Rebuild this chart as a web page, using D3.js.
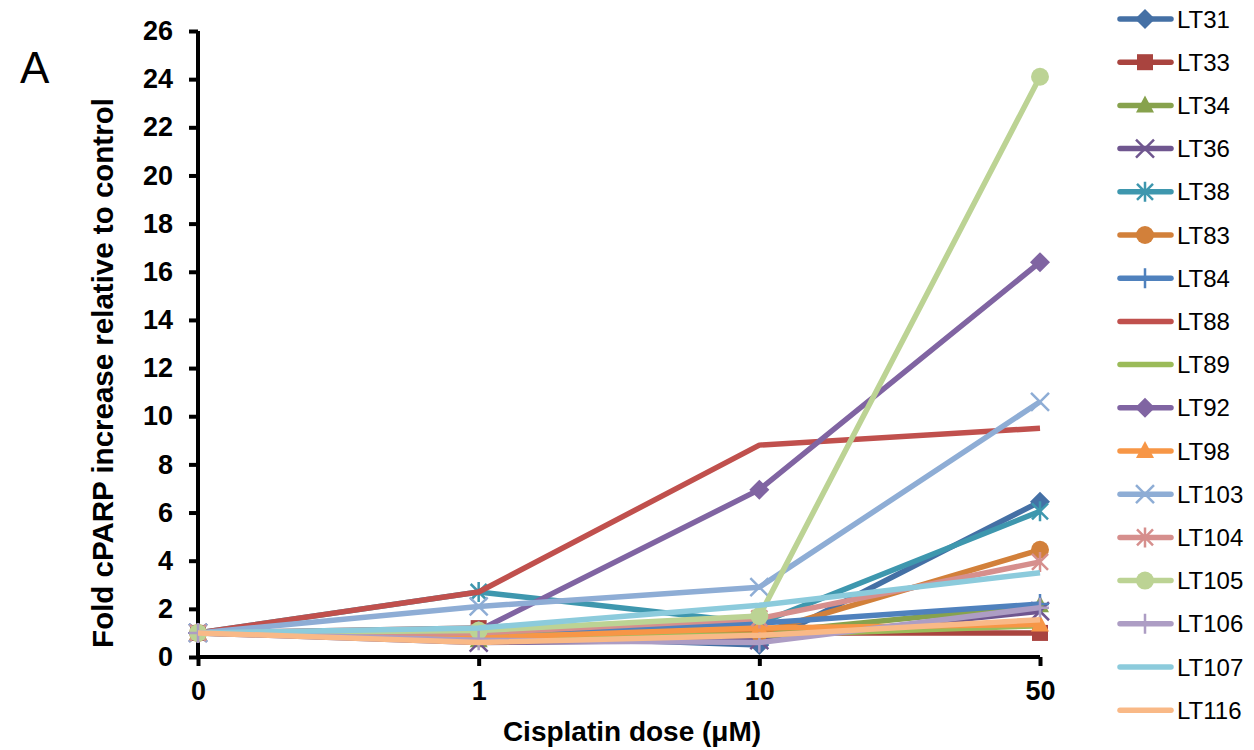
<!DOCTYPE html>
<html>
<head>
<meta charset="utf-8">
<script src="https://cdn.jsdelivr.net/npm/d3@7"></script>
<style>
  body { margin: 0; background: #fff; }
  svg { font-family: Arial, "Liberation Sans", sans-serif; }
</style>
</head>
<body>
<script>
var doses = ['0', '1', '10', '50'];
var yTicks = d3.range(0, 27, 2);

var names   = ['LT31','LT33','LT34','LT36','LT38','LT83','LT84','LT88','LT89','LT92','LT98','LT103','LT104','LT105','LT106','LT107','LT116'];
var colors  = ['#4470a5','#a9443f','#87a24d','#6f568f','#3e97ae','#d2803a','#4f81bd','#c0504d','#9bbb59','#8064a2','#f79646','#8eadd5','#d68f8d','#bcd394','#ad9dc4','#8ccbdc','#f9b987'];
var markers = ['diamond','square','triangle','x','asterisk','circle','plus','none','none','diamond','triangle','x','asterisk','circle','plus','none','none'];

var LT31  = [1, 0.9, 0.5, 6.45];
var LT33  = [1, 1.2, 1.0, 1.0];
var LT34  = [1, 0.7, 1.0, 2.15];
var LT36  = [1, 0.6, 0.7, 1.9];
var LT38  = [1, 2.7, 1.4, 6.05];
var LT83  = [1, 0.9, 1.0, 4.45];
var LT84  = [1, 1.0, 1.4, 2.2];
var LT88  = [1, 2.7, 8.8, 9.5];
var LT89  = [1, 0.9, 0.9, 1.3];
var LT92  = [1, 1.1, 6.95, 16.4];
var LT98  = [1, 0.8, 1.2, 1.35];
var LT103 = [1, 2.1, 2.9, 10.6];
var LT104 = [1, 1.0, 1.6, 3.95];
var LT105 = [1, 1.1, 1.7, 24.1];
var LT106 = [1, 0.7, 0.6, 2.05];
var LT107 = [1, 1.2, 2.15, 3.5];
var LT116 = [1, 0.6, 0.9, 1.55];
var values = [LT31,LT33,LT34,LT36,LT38,LT83,LT84,LT88,LT89,LT92,LT98,LT103,LT104,LT105,LT106,LT107,LT116];

var series = names.map(function(n, i) {
  return {name: n, color: colors[i], marker: markers[i], values: values[i]};
});

var w = 1254, h = 750;
var svg = d3.select('body').append('svg').attr('width', w).attr('height', h);

var x = d3.scalePoint().domain(doses).range([198, 1040]);
var y = d3.scaleLinear().domain([0, 26]).range([657, 31]);

// axes
var yAxis = svg.append('g').attr('transform', 'translate(198,0)')
  .call(d3.axisLeft(y).tickValues(yTicks).tickSize(9).tickPadding(16));
var xAxis = svg.append('g').attr('transform', 'translate(0,657)')
  .call(d3.axisBottom(x).tickSize(9).tickPadding(12));
[xAxis, yAxis].forEach(function(a) {
  a.select('.domain').attr('stroke', '#000').attr('stroke-width', 4);
  a.selectAll('.tick line').attr('stroke', '#000').attr('stroke-width', 4);
  a.selectAll('.tick text').attr('fill', '#000').style('font-size', '27px').style('font-weight', 'bold');
});
yAxis.select('.domain').attr('d', 'M0,' + y(26) + 'V' + y(0));
xAxis.select('.domain').attr('d', 'M' + x('0') + ',0H' + x('50'));
xAxis.selectAll('.tick text').attr('dy', '0.8em');

svg.append('text').attr('x', 632).attr('y', 741).attr('text-anchor', 'middle')
  .style('font-size', '28px').style('font-weight', 'bold')
  .text('Cisplatin dose (μM)');
svg.append('text').attr('transform', 'translate(113,373) rotate(-90)').attr('text-anchor', 'middle')
  .style('font-size', '29.5px').style('font-weight', 'bold')
  .text('Fold cPARP increase relative to control');
svg.append('text').attr('x', 20).attr('y', 83).style('font-size', '44px').text('A');

function drawMarker(g, type, color) {
  if (type === 'diamond') {
    g.append('path').attr('d', 'M0,-10L10,0L0,10L-10,0Z').attr('fill', color);
  } else if (type === 'square') {
    g.append('rect').attr('x', -8).attr('y', -8).attr('width', 16).attr('height', 16).attr('fill', color);
  } else if (type === 'triangle') {
    g.append('path').attr('d', 'M0,-10L9,7L-9,7Z').attr('fill', color);
  } else if (type === 'circle') {
    g.append('circle').attr('r', 9).attr('fill', color);
  } else if (type === 'x') {
    g.append('path').attr('d', 'M-9,-9L9,9M-9,9L9,-9').attr('stroke', color).attr('stroke-width', 2.5);
  } else if (type === 'asterisk') {
    g.append('path').attr('d', 'M-8,-8L8,8M-8,8L8,-8M0,-10V10').attr('stroke', color).attr('stroke-width', 2.5);
  } else if (type === 'plus') {
    g.append('path').attr('d', 'M0,-10V10M-9,0H9').attr('stroke', color).attr('stroke-width', 2.5);
  }
}

var line = d3.line()
  .x(function(d, i) { return x(doses[i]); })
  .y(function(d) { return y(d); });

var plot = svg.append('g');
series.forEach(function(s) {
  var g = plot.append('g');
  g.append('path').attr('d', line(s.values)).attr('fill', 'none')
    .attr('stroke', s.color).attr('stroke-width', 5.5).attr('stroke-linejoin', 'round');
  s.values.forEach(function(v, i) {
    var m = g.append('g').attr('transform', 'translate(' + x(doses[i]) + ',' + y(v) + ')');
    drawMarker(m, s.marker, s.color);
  });
});

// legend
var leg = svg.append('g');
series.forEach(function(s, i) {
  var ly = 19 + i * 43.2;
  var g = leg.append('g').attr('transform', 'translate(0,' + ly + ')');
  g.append('line').attr('x1', 1120).attr('x2', 1171).attr('stroke', s.color)
    .attr('stroke-width', 5.5).attr('stroke-linecap', 'round');
  var m = g.append('g').attr('transform', 'translate(1145,0)');
  drawMarker(m, s.marker, s.color);
  g.append('text').attr('x', 1177).attr('dy', '0.36em').style('font-size', '24px').text(s.name);
});
</script>
</body>
</html>
